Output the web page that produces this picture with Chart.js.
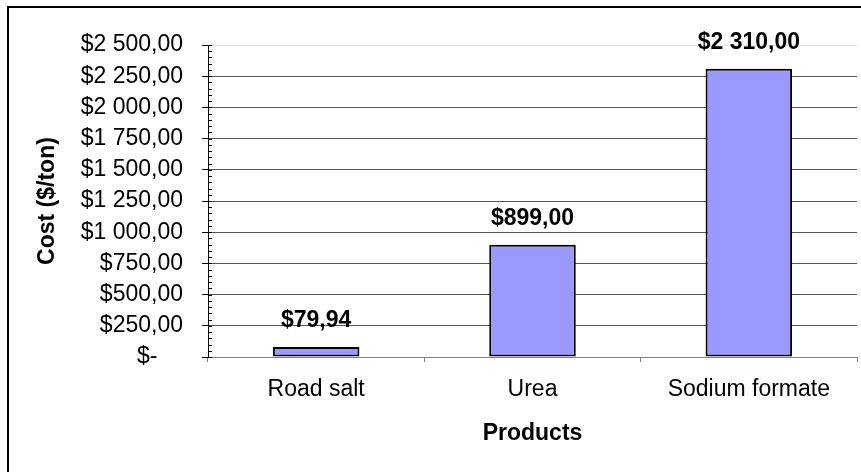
<!DOCTYPE html>
<html>
<head>
<meta charset="utf-8">
<script src="https://cdn.jsdelivr.net/npm/chart.js@4/dist/chart.umd.min.js"></script>
<style>
  body { margin: 0; background: #fff; overflow: hidden; }
  #wrap { position: relative; width: 861px; height: 472px; }
  #frame { position: absolute; left: 7px; top: 6px; width: 900px; height: 500px; border-left: 2px solid #000; border-top: 2px solid #000; }
  #chart { position: absolute; left: 0; top: 0; }
</style>
</head>
<body>
<div id="wrap">
  <div id="frame"></div>
  <canvas id="chart" width="861" height="472"></canvas>
</div>
<script>
const products = ['Road salt', 'Urea', 'Sodium formate'];
const costs = [79.94, 899, 2310];
const yMax = 2500;
const yStep = 250;
const yMinorStep = 50;

// 2310 -> "2 310,00"
function money(v) {
  let parts = v.toFixed(2).split('.');
  let whole = parts[0].replace(/\B(?=(\d{3})+(?!\d))/g, ' ');
  return whole + ',' + parts[1];
}

const fontName = "'Liberation Sans', Arial, sans-serif";
const fs = 23;

// minor ticks on the y axis + inner half of major ticks
const minorTicks = {
  id: 'minorTicks',
  afterDraw(chart) {
    let ctx = chart.ctx;
    let y = chart.scales.y;
    let x0 = chart.chartArea.left;
    ctx.save();
    ctx.strokeStyle = '#000';
    ctx.lineWidth = 1;
    for (let v = 0; v <= yMax; v += yMinorStep) {
      let py = Math.round(y.getPixelForValue(v)) + 0.5;
      ctx.beginPath();
      ctx.moveTo(x0, py);
      ctx.lineTo(x0 + 4, py);
      ctx.stroke();
    }
    ctx.restore();
  }
};

// value labels above bars
const barLabels = {
  id: 'barLabels',
  afterDatasetsDraw(chart) {
    let ctx = chart.ctx;
    let meta = chart.getDatasetMeta(0);
    ctx.save();
    ctx.font = 'bold ' + fs + 'px ' + fontName;
    ctx.fillStyle = '#000';
    ctx.textAlign = 'center';
    ctx.textBaseline = 'middle';
    meta.data.forEach((bar, i) => {
      ctx.fillText('$' + money(costs[i]), bar.x, bar.y - 26);
    });
    ctx.restore();
  }
};

let chart = new Chart(document.getElementById('chart'), {
  type: 'bar',
  data: {
    labels: products,
    datasets: [{
      data: costs,
      backgroundColor: '#9999FF',
      borderColor: '#000',
      borderWidth: 2,
      borderSkipped: false,
      barPercentage: 0.4,
      categoryPercentage: 1
    }]
  },
  options: {
    responsive: false,
    animation: false,
    layout: { padding: { top: 45, right: 4, left: 0, bottom: 0 } },
    plugins: {
      legend: { display: false },
      tooltip: { enabled: false }
    },
    scales: {
      x: {
        grid: {
          display: true,
          drawOnChartArea: false,
          offset: true,
          tickLength: 5,
          color: '#808080'
        },
        border: { color: '#808080', width: 1 },
        ticks: {
          color: '#000',
          font: { family: fontName, size: fs },
          padding: 14,
          maxRotation: 0
        },
        title: {
          display: true,
          text: 'Products',
          color: '#000',
          font: { family: fontName, size: fs, weight: 'bold' },
          padding: { top: 0, bottom: 25 }
        },
        afterFit(scale) { scale.height = 115; }
      },
      y: {
        min: 0,
        max: yMax,
        grid: {
          tickLength: 6,
          color: ctx => {
            if (ctx.tick.value === yMax) return '#e0e0e0';
            if (ctx.tick.value === 0) return '#808080';
            return '#555';
          },
          tickColor: '#000'
        },
        border: { color: '#000', width: 1 },
        ticks: {
          stepSize: yStep,
          color: '#000',
          font: { family: fontName, size: fs },
          padding: 19,
          callback: v => v === 0 ? '$-    ' : '$' + money(v)
        },
        title: {
          display: true,
          text: 'Cost ($/ton)',
          color: '#000',
          font: { family: fontName, size: fs, weight: 'bold' },
          padding: { top: 34, bottom: 0 }
        },
        afterFit(scale) { scale.width = 208; }
      }
    }
  },
  plugins: [minorTicks, barLabels]
});
</script>
</body>
</html>
